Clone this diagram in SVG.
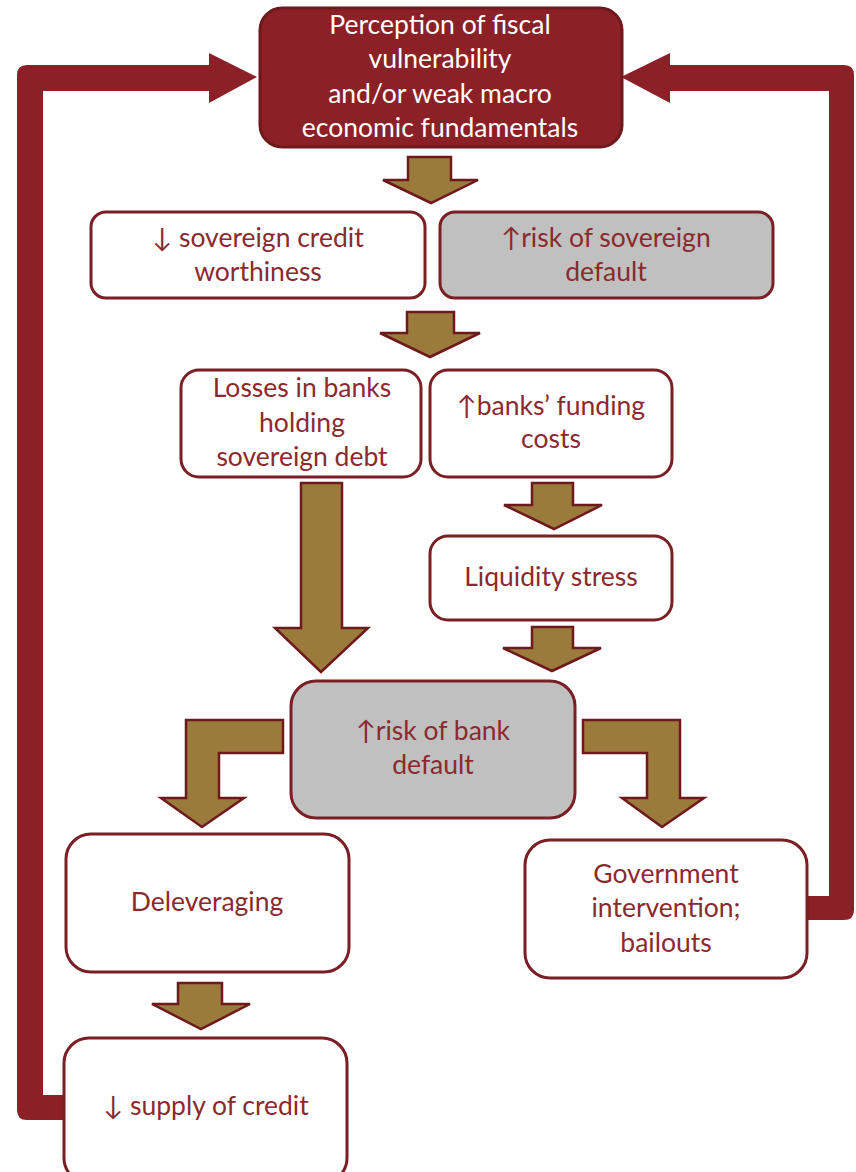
<svg xmlns="http://www.w3.org/2000/svg" width="856" height="1172" viewBox="0 0 856 1172">
<style>
.box{fill:#ffffff;stroke:#7a1f24;stroke-width:3}
.gray{fill:#c0c0c0;stroke:#7a1f24;stroke-width:3}
.top{fill:#8b2126;stroke:#6e191d;stroke-width:3}
.loop{fill:#8b2126}
.gold{fill:#9a7b3b;stroke:#6e191d;stroke-width:2.5;stroke-linejoin:miter}
text{font-family:Lato,"Open Sans","DejaVu Sans",sans-serif;font-size:26.5px;text-anchor:middle;fill:#8b2a2e}
.wt{fill:#ffffff}
</style>
<g id="connectors">
<path class="loop" d="M64,1095 H43 V91 H209 V103 L257,77 L209,53 V65 H27 Q17,65 17,75 V1110 Q17,1120 27,1120 H64 Z"/>
<path class="loop" d="M804,896 H829 V91 H670 V103 L621,77 L670,53 V65 H844 Q854,65 854,75 V910 Q854,920 844,920 H804 Z"/>
<polygon class="gold" points="408,157 451,157 451,180 478,180 431,203 383,180 408,180"/>
<polygon class="gold" points="407,312 454,312 454,333 480,333 430,357 380,333 407,333"/>
<polygon class="gold" points="301,483 342,483 342,628 368,628 321,672 275,628 301,628"/>
<polygon class="gold" points="532,483 573,483 573,505 602,505 554,529 504,505 532,505"/>
<polygon class="gold" points="532,627 573,627 573,648 601,648 552,671 503,648 532,648"/>
<polygon class="gold" points="283,720 186,720 186,798 161,798 202,827 244,798 219,798 219,753 283,753"/>
<polygon class="gold" points="583,720 680,720 680,798 704,798 662,827 622,798 647,798 647,753 583,753"/>
<polygon class="gold" points="178,983 222,983 222,1004 250,1004 201,1029 152,1004 178,1004"/>
</g>
<g id="perception">
<rect class="top" x="260" y="8" width="362" height="139" rx="22"/>
<text class="wt" x="440" y="34">Perception of fiscal</text>
<text class="wt" x="440" y="68">vulnerability</text>
<text class="wt" x="440" y="103">and/or weak macro</text>
<text class="wt" x="440" y="137">economic fundamentals</text>
</g>
<g id="creditworthiness">
<rect class="box" x="91" y="212" width="334" height="86" rx="15"/>
<text x="258" y="247">↓ sovereign credit</text>
<text x="258" y="281">worthiness</text>
</g>
<g id="sovereigndefault">
<rect class="gray" x="440" y="212" width="333" height="86" rx="15"/>
<text x="606" y="247">↑risk of sovereign</text>
<text x="606" y="281">default</text>
</g>
<g id="losses">
<rect class="box" x="181" y="370" width="240" height="107" rx="18"/>
<text x="302" y="397">Losses in banks</text>
<text x="302" y="432">holding</text>
<text x="302" y="466">sovereign debt</text>
</g>
<g id="funding">
<rect class="box" x="430" y="370" width="242" height="107" rx="18"/>
<text x="551" y="415">↑banks’ funding</text>
<text x="551" y="448">costs</text>
</g>
<g id="liquidity">
<rect class="box" x="430" y="536" width="242" height="84" rx="18"/>
<text x="551" y="586">Liquidity stress</text>
</g>
<g id="bankdefault">
<rect class="gray" x="291" y="681" width="284" height="137" rx="25"/>
<text x="433" y="740">↑risk of bank</text>
<text x="433" y="774">default</text>
</g>
<g id="deleveraging">
<rect class="box" x="66" y="834" width="283" height="138" rx="25"/>
<text x="207" y="911">Deleveraging</text>
</g>
<g id="government">
<rect class="box" x="525" y="840" width="282" height="138" rx="25"/>
<text x="666" y="883">Government</text>
<text x="666" y="917">intervention;</text>
<text x="666" y="952">bailouts</text>
</g>
<g id="supply">
<rect class="box" x="64" y="1038" width="283" height="145" rx="25"/>
<text x="206" y="1115">↓ supply of credit</text>
</g>
</svg>
